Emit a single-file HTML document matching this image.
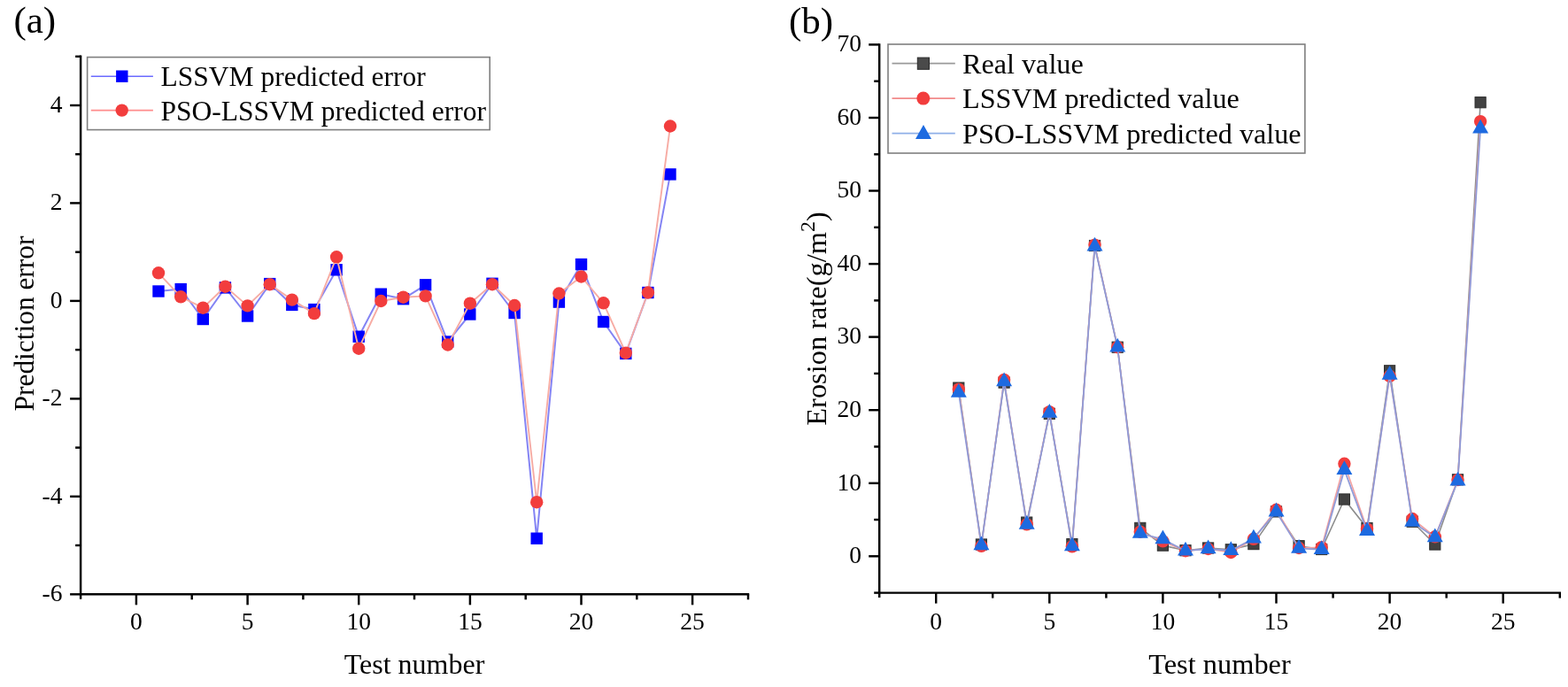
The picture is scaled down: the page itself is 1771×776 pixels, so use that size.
<!DOCTYPE html>
<html><head><meta charset="utf-8"><title>Prediction error and erosion rate</title>
<style>html,body{margin:0;padding:0;background:#fff;width:1771px;height:776px;overflow:hidden}</style>
</head><body>
<svg width="1771" height="776" viewBox="0 0 1771 776" style="font-family:'Liberation Serif','Times New Roman',serif;display:block">
<rect width="1771" height="776" fill="#fff"/>
<line x1="91.1" y1="62.5" x2="91.1" y2="676.8" stroke="#000" stroke-width="2.45"/>
<line x1="89.9" y1="671.3" x2="846.2" y2="671.3" stroke="#000" stroke-width="2.45"/>
<line x1="153.9" y1="671.3" x2="153.9" y2="683.3" stroke="#000" stroke-width="2.45"/>
<line x1="279.6" y1="671.3" x2="279.6" y2="683.3" stroke="#000" stroke-width="2.45"/>
<line x1="405.2" y1="671.3" x2="405.2" y2="683.3" stroke="#000" stroke-width="2.45"/>
<line x1="530.9" y1="671.3" x2="530.9" y2="683.3" stroke="#000" stroke-width="2.45"/>
<line x1="656.5" y1="671.3" x2="656.5" y2="683.3" stroke="#000" stroke-width="2.45"/>
<line x1="782.1" y1="671.3" x2="782.1" y2="683.3" stroke="#000" stroke-width="2.45"/>
<line x1="216.7" y1="671.3" x2="216.7" y2="677.3" stroke="#000" stroke-width="2.45"/>
<line x1="342.4" y1="671.3" x2="342.4" y2="677.3" stroke="#000" stroke-width="2.45"/>
<line x1="468.0" y1="671.3" x2="468.0" y2="677.3" stroke="#000" stroke-width="2.45"/>
<line x1="593.7" y1="671.3" x2="593.7" y2="677.3" stroke="#000" stroke-width="2.45"/>
<line x1="719.3" y1="671.3" x2="719.3" y2="677.3" stroke="#000" stroke-width="2.45"/>
<line x1="845.0" y1="671.3" x2="845.0" y2="677.3" stroke="#000" stroke-width="2.45"/>
<line x1="79.1" y1="119.0" x2="91.1" y2="119.0" stroke="#000" stroke-width="2.45"/>
<line x1="79.1" y1="229.4" x2="91.1" y2="229.4" stroke="#000" stroke-width="2.45"/>
<line x1="79.1" y1="339.9" x2="91.1" y2="339.9" stroke="#000" stroke-width="2.45"/>
<line x1="79.1" y1="450.4" x2="91.1" y2="450.4" stroke="#000" stroke-width="2.45"/>
<line x1="79.1" y1="560.8" x2="91.1" y2="560.8" stroke="#000" stroke-width="2.45"/>
<line x1="79.1" y1="671.3" x2="91.1" y2="671.3" stroke="#000" stroke-width="2.45"/>
<line x1="85.1" y1="63.8" x2="91.1" y2="63.8" stroke="#000" stroke-width="2.45"/>
<line x1="85.1" y1="174.2" x2="91.1" y2="174.2" stroke="#000" stroke-width="2.45"/>
<line x1="85.1" y1="284.7" x2="91.1" y2="284.7" stroke="#000" stroke-width="2.45"/>
<line x1="85.1" y1="395.1" x2="91.1" y2="395.1" stroke="#000" stroke-width="2.45"/>
<line x1="85.1" y1="505.6" x2="91.1" y2="505.6" stroke="#000" stroke-width="2.45"/>
<line x1="85.1" y1="616.0" x2="91.1" y2="616.0" stroke="#000" stroke-width="2.45"/>
<text x="153.9" y="710.8" text-anchor="middle" font-size="27.5">0</text>
<text x="279.6" y="710.8" text-anchor="middle" font-size="27.5">5</text>
<text x="405.2" y="710.8" text-anchor="middle" font-size="27.5">10</text>
<text x="530.9" y="710.8" text-anchor="middle" font-size="27.5">15</text>
<text x="656.5" y="710.8" text-anchor="middle" font-size="27.5">20</text>
<text x="782.1" y="710.8" text-anchor="middle" font-size="27.5">25</text>
<text x="70.5" y="126.8" text-anchor="end" font-size="27.5">4</text>
<text x="70.5" y="237.2" text-anchor="end" font-size="27.5">2</text>
<text x="70.5" y="347.7" text-anchor="end" font-size="27.5">0</text>
<text x="70.5" y="458.2" text-anchor="end" font-size="27.5">-2</text>
<text x="70.5" y="568.6" text-anchor="end" font-size="27.5">-4</text>
<text x="70.5" y="679.1" text-anchor="end" font-size="27.5">-6</text>
<polyline points="179.0,329.0 204.2,326.6 229.3,360.5 254.4,324.9 279.6,357.0 304.7,320.6 329.8,344.4 354.9,349.6 380.1,304.8 405.2,380.2 430.3,332.2 455.5,337.7 480.6,321.8 505.7,386.0 530.9,355.0 556.0,320.3 581.1,353.5 606.2,608.2 631.4,341.1 656.5,298.6 681.6,363.5 706.8,399.4 731.9,330.5 757.0,196.9" fill="none" stroke="#8484f4" stroke-width="2" stroke-linejoin="round"/>
<rect x="172.3" y="322.3" width="13.4" height="13.4" fill="#0000ff"/>
<rect x="197.5" y="319.9" width="13.4" height="13.4" fill="#0000ff"/>
<rect x="222.6" y="353.8" width="13.4" height="13.4" fill="#0000ff"/>
<rect x="247.7" y="318.2" width="13.4" height="13.4" fill="#0000ff"/>
<rect x="272.9" y="350.3" width="13.4" height="13.4" fill="#0000ff"/>
<rect x="298.0" y="313.9" width="13.4" height="13.4" fill="#0000ff"/>
<rect x="323.1" y="337.7" width="13.4" height="13.4" fill="#0000ff"/>
<rect x="348.2" y="342.9" width="13.4" height="13.4" fill="#0000ff"/>
<rect x="373.4" y="298.1" width="13.4" height="13.4" fill="#0000ff"/>
<rect x="398.5" y="373.5" width="13.4" height="13.4" fill="#0000ff"/>
<rect x="423.6" y="325.5" width="13.4" height="13.4" fill="#0000ff"/>
<rect x="448.8" y="331.0" width="13.4" height="13.4" fill="#0000ff"/>
<rect x="473.9" y="315.1" width="13.4" height="13.4" fill="#0000ff"/>
<rect x="499.0" y="379.3" width="13.4" height="13.4" fill="#0000ff"/>
<rect x="524.1" y="348.3" width="13.4" height="13.4" fill="#0000ff"/>
<rect x="549.3" y="313.6" width="13.4" height="13.4" fill="#0000ff"/>
<rect x="574.4" y="346.8" width="13.4" height="13.4" fill="#0000ff"/>
<rect x="599.5" y="601.5" width="13.4" height="13.4" fill="#0000ff"/>
<rect x="624.7" y="334.4" width="13.4" height="13.4" fill="#0000ff"/>
<rect x="649.8" y="291.9" width="13.4" height="13.4" fill="#0000ff"/>
<rect x="674.9" y="356.8" width="13.4" height="13.4" fill="#0000ff"/>
<rect x="700.1" y="392.7" width="13.4" height="13.4" fill="#0000ff"/>
<rect x="725.2" y="323.8" width="13.4" height="13.4" fill="#0000ff"/>
<rect x="750.3" y="190.2" width="13.4" height="13.4" fill="#0000ff"/>
<polyline points="179.0,308.3 204.2,335.3 229.3,347.7 254.4,323.7 279.6,345.4 304.7,321.2 329.8,338.6 354.9,354.1 380.1,290.3 405.2,393.7 430.3,340.0 455.5,335.7 480.6,334.4 505.7,389.5 530.9,342.7 556.0,321.2 581.1,345.0 606.2,567.2 631.4,331.5 656.5,312.5 681.6,342.3 706.8,398.7 731.9,330.5 757.0,142.5" fill="none" stroke="#f7aca4" stroke-width="1.9" stroke-linejoin="round"/>
<circle cx="179.0" cy="308.3" r="7.2" fill="#f23d3d"/>
<circle cx="204.2" cy="335.3" r="7.2" fill="#f23d3d"/>
<circle cx="229.3" cy="347.7" r="7.2" fill="#f23d3d"/>
<circle cx="254.4" cy="323.7" r="7.2" fill="#f23d3d"/>
<circle cx="279.6" cy="345.4" r="7.2" fill="#f23d3d"/>
<circle cx="304.7" cy="321.2" r="7.2" fill="#f23d3d"/>
<circle cx="329.8" cy="338.6" r="7.2" fill="#f23d3d"/>
<circle cx="354.9" cy="354.1" r="7.2" fill="#f23d3d"/>
<circle cx="380.1" cy="290.3" r="7.2" fill="#f23d3d"/>
<circle cx="405.2" cy="393.7" r="7.2" fill="#f23d3d"/>
<circle cx="430.3" cy="340.0" r="7.2" fill="#f23d3d"/>
<circle cx="455.5" cy="335.7" r="7.2" fill="#f23d3d"/>
<circle cx="480.6" cy="334.4" r="7.2" fill="#f23d3d"/>
<circle cx="505.7" cy="389.5" r="7.2" fill="#f23d3d"/>
<circle cx="530.9" cy="342.7" r="7.2" fill="#f23d3d"/>
<circle cx="556.0" cy="321.2" r="7.2" fill="#f23d3d"/>
<circle cx="581.1" cy="345.0" r="7.2" fill="#f23d3d"/>
<circle cx="606.2" cy="567.2" r="7.2" fill="#f23d3d"/>
<circle cx="631.4" cy="331.5" r="7.2" fill="#f23d3d"/>
<circle cx="656.5" cy="312.5" r="7.2" fill="#f23d3d"/>
<circle cx="681.6" cy="342.3" r="7.2" fill="#f23d3d"/>
<circle cx="706.8" cy="398.7" r="7.2" fill="#f23d3d"/>
<circle cx="731.9" cy="330.5" r="7.2" fill="#f23d3d"/>
<circle cx="757.0" cy="142.5" r="7.2" fill="#f23d3d"/>
<rect x="98.6" y="64.6" width="454.6" height="82" fill="none" stroke="#7f7f7f" stroke-width="1.6"/>
<line x1="102.8" y1="86.2" x2="172.9" y2="86.2" stroke="#6b6bff" stroke-width="1.6"/>
<rect x="131.1" y="79.5" width="13.4" height="13.4" fill="#0000ff"/>
<line x1="102.8" y1="124.6" x2="172.9" y2="124.6" stroke="#ff8c8c" stroke-width="1.6"/>
<circle cx="137.7" cy="124.6" r="7.2" fill="#f23d3d"/>
<text x="181.5" y="97.1" font-size="31.5">LSSVM predicted error</text>
<text x="181.5" y="136.2" font-size="31.5">PSO-LSSVM predicted error</text>
<text x="468.0" y="760.8" text-anchor="middle" font-size="32">Test number</text>
<text transform="translate(38.2,365.5) rotate(-90)" text-anchor="middle" font-size="31.4">Prediction error</text>
<text x="15.4" y="37.3" font-size="43">(a)</text>
<line x1="993.2" y1="49.2" x2="993.2" y2="675.1" stroke="#000" stroke-width="2.45"/>
<line x1="991.9" y1="669.6" x2="1763.0" y2="669.6" stroke="#000" stroke-width="2.45"/>
<line x1="1057.2" y1="669.6" x2="1057.2" y2="681.6" stroke="#000" stroke-width="2.45"/>
<line x1="1185.3" y1="669.6" x2="1185.3" y2="681.6" stroke="#000" stroke-width="2.45"/>
<line x1="1313.4" y1="669.6" x2="1313.4" y2="681.6" stroke="#000" stroke-width="2.45"/>
<line x1="1441.5" y1="669.6" x2="1441.5" y2="681.6" stroke="#000" stroke-width="2.45"/>
<line x1="1569.6" y1="669.6" x2="1569.6" y2="681.6" stroke="#000" stroke-width="2.45"/>
<line x1="1697.7" y1="669.6" x2="1697.7" y2="681.6" stroke="#000" stroke-width="2.45"/>
<line x1="1121.2" y1="669.6" x2="1121.2" y2="675.6" stroke="#000" stroke-width="2.45"/>
<line x1="1249.4" y1="669.6" x2="1249.4" y2="675.6" stroke="#000" stroke-width="2.45"/>
<line x1="1377.5" y1="669.6" x2="1377.5" y2="675.6" stroke="#000" stroke-width="2.45"/>
<line x1="1505.6" y1="669.6" x2="1505.6" y2="675.6" stroke="#000" stroke-width="2.45"/>
<line x1="1633.7" y1="669.6" x2="1633.7" y2="675.6" stroke="#000" stroke-width="2.45"/>
<line x1="1761.8" y1="669.6" x2="1761.8" y2="675.6" stroke="#000" stroke-width="2.45"/>
<line x1="981.2" y1="50.4" x2="993.2" y2="50.4" stroke="#000" stroke-width="2.45"/>
<line x1="981.2" y1="133.0" x2="993.2" y2="133.0" stroke="#000" stroke-width="2.45"/>
<line x1="981.2" y1="215.5" x2="993.2" y2="215.5" stroke="#000" stroke-width="2.45"/>
<line x1="981.2" y1="298.1" x2="993.2" y2="298.1" stroke="#000" stroke-width="2.45"/>
<line x1="981.2" y1="380.6" x2="993.2" y2="380.6" stroke="#000" stroke-width="2.45"/>
<line x1="981.2" y1="463.2" x2="993.2" y2="463.2" stroke="#000" stroke-width="2.45"/>
<line x1="981.2" y1="545.8" x2="993.2" y2="545.8" stroke="#000" stroke-width="2.45"/>
<line x1="981.2" y1="628.3" x2="993.2" y2="628.3" stroke="#000" stroke-width="2.45"/>
<line x1="987.2" y1="91.7" x2="993.2" y2="91.7" stroke="#000" stroke-width="2.45"/>
<line x1="987.2" y1="174.3" x2="993.2" y2="174.3" stroke="#000" stroke-width="2.45"/>
<line x1="987.2" y1="256.8" x2="993.2" y2="256.8" stroke="#000" stroke-width="2.45"/>
<line x1="987.2" y1="339.4" x2="993.2" y2="339.4" stroke="#000" stroke-width="2.45"/>
<line x1="987.2" y1="421.9" x2="993.2" y2="421.9" stroke="#000" stroke-width="2.45"/>
<line x1="987.2" y1="504.5" x2="993.2" y2="504.5" stroke="#000" stroke-width="2.45"/>
<line x1="987.2" y1="587.0" x2="993.2" y2="587.0" stroke="#000" stroke-width="2.45"/>
<line x1="987.2" y1="669.6" x2="993.2" y2="669.6" stroke="#000" stroke-width="2.45"/>
<text x="1057.2" y="710.8" text-anchor="middle" font-size="27.5">0</text>
<text x="1185.3" y="710.8" text-anchor="middle" font-size="27.5">5</text>
<text x="1313.4" y="710.8" text-anchor="middle" font-size="27.5">10</text>
<text x="1441.5" y="710.8" text-anchor="middle" font-size="27.5">15</text>
<text x="1569.6" y="710.8" text-anchor="middle" font-size="27.5">20</text>
<text x="1697.7" y="710.8" text-anchor="middle" font-size="27.5">25</text>
<text x="973.0" y="58.2" text-anchor="end" font-size="27.5">70</text>
<text x="973.0" y="140.8" text-anchor="end" font-size="27.5">60</text>
<text x="973.0" y="223.3" text-anchor="end" font-size="27.5">50</text>
<text x="973.0" y="305.9" text-anchor="end" font-size="27.5">40</text>
<text x="973.0" y="388.4" text-anchor="end" font-size="27.5">30</text>
<text x="973.0" y="471.0" text-anchor="end" font-size="27.5">20</text>
<text x="973.0" y="553.5" text-anchor="end" font-size="27.5">10</text>
<text x="973.0" y="636.1" text-anchor="end" font-size="27.5">0</text>
<polyline points="1082.8,438.1 1108.4,615.0 1134.1,432.1 1159.7,590.1 1185.3,467.3 1210.9,614.6 1236.5,277.5 1262.2,392.2 1287.8,596.4 1313.4,616.1 1339.0,621.7 1364.6,619.0 1390.3,620.8 1415.9,614.6 1441.5,577.9 1467.1,616.7 1492.7,620.5 1518.4,564.0 1544.0,596.5 1569.6,418.8 1595.2,589.2 1620.8,615.0 1646.5,541.8 1672.1,115.7" fill="none" stroke="#8c8c8c" stroke-width="1.6" stroke-linejoin="round"/>
<rect x="1076.7" y="432.0" width="12.2" height="12.2" fill="#424242" stroke="#2e2e2e" stroke-width="1"/>
<rect x="1102.3" y="608.9" width="12.2" height="12.2" fill="#424242" stroke="#2e2e2e" stroke-width="1"/>
<rect x="1128.0" y="426.0" width="12.2" height="12.2" fill="#424242" stroke="#2e2e2e" stroke-width="1"/>
<rect x="1153.6" y="584.0" width="12.2" height="12.2" fill="#424242" stroke="#2e2e2e" stroke-width="1"/>
<rect x="1179.2" y="461.2" width="12.2" height="12.2" fill="#424242" stroke="#2e2e2e" stroke-width="1"/>
<rect x="1204.8" y="608.5" width="12.2" height="12.2" fill="#424242" stroke="#2e2e2e" stroke-width="1"/>
<rect x="1230.4" y="271.4" width="12.2" height="12.2" fill="#424242" stroke="#2e2e2e" stroke-width="1"/>
<rect x="1256.1" y="386.1" width="12.2" height="12.2" fill="#424242" stroke="#2e2e2e" stroke-width="1"/>
<rect x="1281.7" y="590.3" width="12.2" height="12.2" fill="#424242" stroke="#2e2e2e" stroke-width="1"/>
<rect x="1307.3" y="610.0" width="12.2" height="12.2" fill="#424242" stroke="#2e2e2e" stroke-width="1"/>
<rect x="1332.9" y="615.6" width="12.2" height="12.2" fill="#424242" stroke="#2e2e2e" stroke-width="1"/>
<rect x="1358.5" y="612.9" width="12.2" height="12.2" fill="#424242" stroke="#2e2e2e" stroke-width="1"/>
<rect x="1384.2" y="614.7" width="12.2" height="12.2" fill="#424242" stroke="#2e2e2e" stroke-width="1"/>
<rect x="1409.8" y="608.5" width="12.2" height="12.2" fill="#424242" stroke="#2e2e2e" stroke-width="1"/>
<rect x="1435.4" y="571.8" width="12.2" height="12.2" fill="#424242" stroke="#2e2e2e" stroke-width="1"/>
<rect x="1461.0" y="610.6" width="12.2" height="12.2" fill="#424242" stroke="#2e2e2e" stroke-width="1"/>
<rect x="1486.6" y="614.4" width="12.2" height="12.2" fill="#424242" stroke="#2e2e2e" stroke-width="1"/>
<rect x="1512.3" y="557.9" width="12.2" height="12.2" fill="#424242" stroke="#2e2e2e" stroke-width="1"/>
<rect x="1537.9" y="590.4" width="12.2" height="12.2" fill="#424242" stroke="#2e2e2e" stroke-width="1"/>
<rect x="1563.5" y="412.7" width="12.2" height="12.2" fill="#424242" stroke="#2e2e2e" stroke-width="1"/>
<rect x="1589.1" y="583.1" width="12.2" height="12.2" fill="#424242" stroke="#2e2e2e" stroke-width="1"/>
<rect x="1614.7" y="608.9" width="12.2" height="12.2" fill="#424242" stroke="#2e2e2e" stroke-width="1"/>
<rect x="1640.4" y="535.7" width="12.2" height="12.2" fill="#424242" stroke="#2e2e2e" stroke-width="1"/>
<rect x="1666.0" y="109.6" width="12.2" height="12.2" fill="#424242" stroke="#2e2e2e" stroke-width="1"/>
<polyline points="1082.8,439.7 1108.4,616.9 1134.1,428.9 1159.7,592.4 1185.3,465.2 1210.9,617.3 1236.5,276.6 1262.2,392.2 1287.8,600.7 1313.4,611.4 1339.0,622.2 1364.6,620.0 1390.3,624.0 1415.9,608.8 1441.5,575.8 1467.1,619.0 1492.7,618.2 1518.4,523.8 1544.0,597.4 1569.6,424.8 1595.2,586.0 1620.8,606.3 1646.5,542.0 1672.1,137.1" fill="none" stroke="#f2a0a0" stroke-width="1.6" stroke-linejoin="round"/>
<circle cx="1082.8" cy="439.7" r="7.2" fill="#f23d3d"/>
<circle cx="1108.4" cy="616.9" r="7.2" fill="#f23d3d"/>
<circle cx="1134.1" cy="428.9" r="7.2" fill="#f23d3d"/>
<circle cx="1159.7" cy="592.4" r="7.2" fill="#f23d3d"/>
<circle cx="1185.3" cy="465.2" r="7.2" fill="#f23d3d"/>
<circle cx="1210.9" cy="617.3" r="7.2" fill="#f23d3d"/>
<circle cx="1236.5" cy="276.6" r="7.2" fill="#f23d3d"/>
<circle cx="1262.2" cy="392.2" r="7.2" fill="#f23d3d"/>
<circle cx="1287.8" cy="600.7" r="7.2" fill="#f23d3d"/>
<circle cx="1313.4" cy="611.4" r="7.2" fill="#f23d3d"/>
<circle cx="1339.0" cy="622.2" r="7.2" fill="#f23d3d"/>
<circle cx="1364.6" cy="620.0" r="7.2" fill="#f23d3d"/>
<circle cx="1390.3" cy="624.0" r="7.2" fill="#f23d3d"/>
<circle cx="1415.9" cy="608.8" r="7.2" fill="#f23d3d"/>
<circle cx="1441.5" cy="575.8" r="7.2" fill="#f23d3d"/>
<circle cx="1467.1" cy="619.0" r="7.2" fill="#f23d3d"/>
<circle cx="1492.7" cy="618.2" r="7.2" fill="#f23d3d"/>
<circle cx="1518.4" cy="523.8" r="7.2" fill="#f23d3d"/>
<circle cx="1544.0" cy="597.4" r="7.2" fill="#f23d3d"/>
<circle cx="1569.6" cy="424.8" r="7.2" fill="#f23d3d"/>
<circle cx="1595.2" cy="586.0" r="7.2" fill="#f23d3d"/>
<circle cx="1620.8" cy="606.3" r="7.2" fill="#f23d3d"/>
<circle cx="1646.5" cy="542.0" r="7.2" fill="#f23d3d"/>
<circle cx="1672.1" cy="137.1" r="7.2" fill="#f23d3d"/>
<polyline points="1082.8,443.4 1108.4,616.0 1134.1,431.0 1159.7,592.6 1185.3,466.5 1210.9,617.0 1236.5,278.3 1262.2,392.2 1287.8,602.5 1313.4,609.1 1339.0,622.2 1364.6,620.0 1390.3,621.9 1415.9,608.2 1441.5,578.1 1467.1,619.4 1492.7,620.9 1518.4,530.7 1544.0,599.7 1569.6,423.4 1595.2,589.5 1620.8,606.9 1646.5,543.3 1672.1,145.4" fill="none" stroke="#909bd8" stroke-width="1.8" stroke-linejoin="round"/>
<polygon points="1082.8,432.9 1091.8,448.7 1073.8,448.7" fill="#1d6ae0"/>
<polygon points="1108.4,605.5 1117.4,621.3 1099.4,621.3" fill="#1d6ae0"/>
<polygon points="1134.1,420.5 1143.1,436.3 1125.1,436.3" fill="#1d6ae0"/>
<polygon points="1159.7,582.0 1168.7,597.8 1150.7,597.8" fill="#1d6ae0"/>
<polygon points="1185.3,456.0 1194.3,471.8 1176.3,471.8" fill="#1d6ae0"/>
<polygon points="1210.9,606.5 1219.9,622.3 1201.9,622.3" fill="#1d6ae0"/>
<polygon points="1236.5,267.8 1245.5,283.6 1227.5,283.6" fill="#1d6ae0"/>
<polygon points="1262.2,381.7 1271.2,397.5 1253.2,397.5" fill="#1d6ae0"/>
<polygon points="1287.8,592.0 1296.8,607.8 1278.8,607.8" fill="#1d6ae0"/>
<polygon points="1313.4,598.5 1322.4,614.3 1304.4,614.3" fill="#1d6ae0"/>
<polygon points="1339.0,611.7 1348.0,627.5 1330.0,627.5" fill="#1d6ae0"/>
<polygon points="1364.6,609.5 1373.6,625.3 1355.6,625.3" fill="#1d6ae0"/>
<polygon points="1390.3,611.3 1399.3,627.1 1381.3,627.1" fill="#1d6ae0"/>
<polygon points="1415.9,597.7 1424.9,613.5 1406.9,613.5" fill="#1d6ae0"/>
<polygon points="1441.5,567.6 1450.5,583.4 1432.5,583.4" fill="#1d6ae0"/>
<polygon points="1467.1,608.9 1476.1,624.7 1458.1,624.7" fill="#1d6ae0"/>
<polygon points="1492.7,610.3 1501.7,626.1 1483.7,626.1" fill="#1d6ae0"/>
<polygon points="1518.4,520.2 1527.4,536.0 1509.4,536.0" fill="#1d6ae0"/>
<polygon points="1544.0,589.2 1553.0,605.0 1535.0,605.0" fill="#1d6ae0"/>
<polygon points="1569.6,412.9 1578.6,428.7 1560.6,428.7" fill="#1d6ae0"/>
<polygon points="1595.2,579.0 1604.2,594.8 1586.2,594.8" fill="#1d6ae0"/>
<polygon points="1620.8,596.4 1629.8,612.2 1611.8,612.2" fill="#1d6ae0"/>
<polygon points="1646.5,532.7 1655.5,548.5 1637.5,548.5" fill="#1d6ae0"/>
<polygon points="1672.1,134.8 1681.1,150.6 1663.1,150.6" fill="#1d6ae0"/>
<rect x="1003" y="50" width="470.9" height="123" fill="none" stroke="#7f7f7f" stroke-width="1.6"/>
<line x1="1007.5" y1="71.6" x2="1078.8" y2="71.6" stroke="#9a9a9a" stroke-width="1.6"/>
<rect x="1036.3" y="65.1" width="13.2" height="13.2" fill="#4a4a4a" stroke="#2a2a2a" stroke-width="1"/>
<line x1="1007.5" y1="111.1" x2="1078.8" y2="111.1" stroke="#f28a8a" stroke-width="1.6"/>
<circle cx="1042.8" cy="111.1" r="7.5" fill="#f23d3d"/>
<line x1="1007.5" y1="150.6" x2="1078.8" y2="150.6" stroke="#8fb0e8" stroke-width="1.6"/>
<polygon points="1043.0,141.1 1052.0,156.9 1034.0,156.9" fill="#1d6ae0"/>
<text x="1087" y="82.9" font-size="32.2">Real value</text>
<text x="1087" y="122.4" font-size="32.2">LSSVM predicted value</text>
<text x="1087" y="161.5" font-size="32.2">PSO-LSSVM predicted value</text>
<text x="1377.5" y="760.8" text-anchor="middle" font-size="32.4">Test number</text>
<text transform="translate(933,360) rotate(-90)" text-anchor="middle" font-size="32.4">Erosion rate(g/m<tspan font-size="24" dy="-12.8">2</tspan><tspan dy="12.8">)</tspan></text>
<text x="891" y="38" font-size="43">(b)</text>
</svg>
</body></html>
